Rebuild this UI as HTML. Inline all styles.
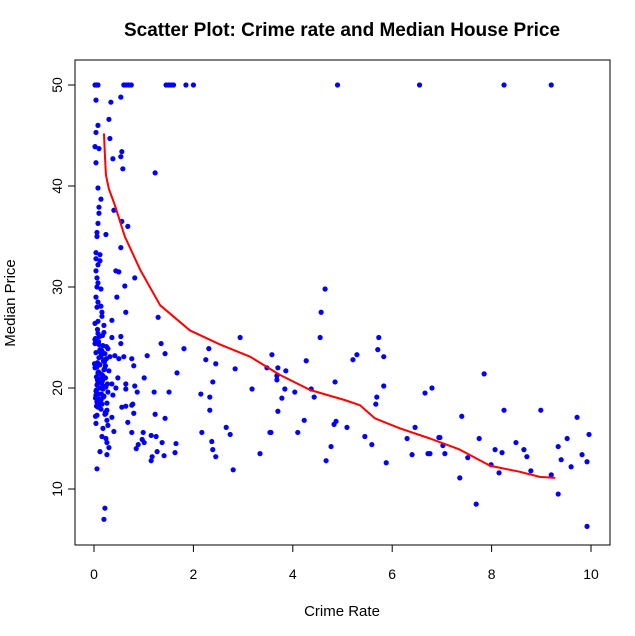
<!DOCTYPE html>
<html><head><meta charset="utf-8"><style>
body{margin:0;background:#fff;}
svg text{font-family:"Liberation Sans",Arial,sans-serif;}
</style></head><body>
<svg id="chart" width="635" height="631" xmlns="http://www.w3.org/2000/svg">
<rect width="635" height="631" fill="#fff"/>
<text x="342" y="36" font-size="19" font-weight="bold" text-anchor="middle">Scatter Plot: Crime rate and Median House Price</text>
<rect x="75" y="60" width="535" height="485" fill="none" stroke="#000" stroke-width="1"/>
<g id="xaxis"></g>
<g id="yaxis"></g>
<text x="342" y="616" font-size="15" text-anchor="middle">Crime Rate</text>
<text x="15" y="303" font-size="15" text-anchor="middle" transform="rotate(-90 15 303)">Median Price</text>
<g id="points"></g>
<g id="fit"></g>
</svg>
<script>
const xTicks=[0,2,4,6,8,10];
const yTicks=[10,20,30,40,50];
const crime=[0.02,0.05,0.08,0.6,0.65,0.7,0.75,1.45,1.5,1.55,1.6,1.85,2.0,4.9,6.55,8.25,9.2,
0.04,0.34,0.54,0.3,0.08,0.04,0.32,0.02,0.1,0.56,0.54,0.38,0.04,0.58,1.23,0.08,0.14,0.1,0.4,0.1,0.08,0.56,0.68,0.06,0.24,
0.06,0.54,0.04,0.12,0.04,0.12,0.08,0.04,0.44,0.5,0.82,0.06,0.08,0.62,0.06,0.14,0.46,0.04,0.08,0.14,
0.64,1.29,2.94,3.34,3.54,3.58,3.48,3.18,2.84,2.8,2.74,2.66,2.45,2.39,2.37,2.17,2.33,2.33,2.15,2.39,2.45,2.25,2.31,1.67,1.81,1.43,1.35,1.07,1.01,1.21,1.51,1.23,1.43,1.15,1.25,1.37,1.27,1.41,1.17,1.15,1.65,1.63,0.97,0.99,0.76,0.89,0.85,1.01,0.68,0.8,0.78,0.56,0.64,0.76,0.64,0.64,0.82,0.87,0.8,0.76,0.6,0.5,0.42,0.32,0.54,0.54,0.36,0.36,0.48,0.44,0.36,0.38,0.36,0.4,0.26,0.3,0.26,0.12,0.16,0.24,0.18,0.28,0.26,0.04,0.2,0.08,0.16,0.16,0.06,0.06,0.22,0.2,
4.65,4.57,4.55,3.7,3.86,3.68,3.68,4.27,3.84,3.78,4.04,4.37,4.43,4.85,3.7,4.23,4.1,3.56,4.83,4.87,5.09,4.77,4.67,5.21,5.29,5.73,5.71,5.83,5.83,5.69,5.67,5.45,5.59,5.88,6.3,6.46,6.4,6.72,6.66,6.8,6.94,
7.85,7.4,8.25,8.99,9.72,9.96,6.96,7.02,7.06,6.76,7.75,7.52,7.36,7.69,8.07,8.21,7.99,8.15,8.49,8.65,8.71,8.79,9.2,9.34,9.4,9.52,9.6,9.82,9.92,9.34,9.92,
0.02,0.04,0.06,0.08,0.1,0.12,0.14,0.16,0.18,0.2,0.22,0.24,0.26,0.28,0.3,0.03,0.05,0.07,0.09,0.11,0.13,0.15,0.17,0.19,0.21,0.23,0.25,0.27,0.01,0.04,0.07,0.1,0.13,0.16,0.19,0.22,0.25,0.28,0.02,0.05,0.08,0.11,0.14,0.17,0.2,0.23,0.26,0.03,0.06,0.09,0.12,0.15,0.18,0.21,0.24,0.02,0.06,0.1,0.14,0.18,0.22,0.04,0.08,0.12,0.16,0.2,0.03,0.07,0.11,0.15,0.19,0.23,0.05,0.09,0.13,0.02,0.06,0.1,0.03,0.08];
const price=[50,50,50,50,50,50,50,50,50,50,50,50,50,50,50,50,50,
48.5,48.3,48.8,46.6,46,45.3,44.7,43.9,43.7,43.4,42.9,42.7,42.3,41.7,41.3,39.8,38.7,37.9,37.6,37.3,36.3,36.5,36,35.4,35.2,
35,33.9,33.4,33.2,32.8,32.6,32.2,31.6,31.6,31.5,30.9,30.9,30.4,30.1,30,29.8,29,29,28.5,28.1,
27.5,27,25,13.5,15.6,23.3,22,19.9,21.9,11.9,15.4,16.1,13.2,13.9,14.7,15.6,17.8,19.1,19.4,20.6,22.4,22.8,23.9,21.5,23.9,23.4,24.4,23.2,21,19.6,19.6,17.4,17,15.3,15.2,14.6,13.7,13.3,13.2,12.8,14.5,13.6,14.9,15.6,15.6,14.4,14,14.6,16.6,17.5,18.4,18.1,18.2,18.3,20.4,19.9,20.2,19.6,22.2,22.9,23.1,22.9,23.2,23.1,24.4,25.1,25,26.7,21,20,20.4,19.3,17.1,15.7,14.6,14.1,13.4,13.7,15.2,15,16,16.3,16.8,16.5,26.2,26.6,27.1,27.5,28,12,8.1,7,
29.8,27.5,25,22,21.7,21.2,20.8,22.7,19.9,19,19.6,19.9,19.1,20.6,17.7,16.8,15.6,15.6,16.4,16.7,16.1,14.2,12.8,22.8,23.3,25,23.8,23.1,20.2,19.1,18.4,15.2,14.4,12.6,15,16.1,13.4,13.5,19.5,20,15.1,
21.4,17.2,17.8,17.8,17.1,15.4,15.1,14.3,13.5,13.5,15,13.1,11.1,8.5,13.9,13.6,12.4,11.6,14.6,13.9,13.2,11.8,11.4,14.2,12.9,15,12.2,13.4,12.7,9.5,6.3,
24.8,23.5,22.1,20.6,19.4,18.7,17.9,21.3,24.2,25.5,22.8,20.1,18.5,23.9,21.7,17.2,19.8,22.5,24.6,18.3,20.9,23.3,25.2,19.1,21.9,17.6,24.1,20.4,22.4,19.3,25.8,18.9,21.4,23.7,20.2,17.4,22.9,19.6,24.4,21.1,18.1,25.1,23.1,20.7,19.2,22.2,17.8,24.9,18.6,21.6,23.8,20.5,19.9,22.6,17.5,26.4,20.3,24.3,18.8,21.2,23.4,19.7,25.4,22.3,18.4,21.8,24.7,20.8,23.6,19.4,22.7,21,18.2,24.5,20,22,17.3,23,19,21.5];
const fitX=[0.2,0.22,0.24,0.3,0.42,0.62,0.93,1.33,1.93,2.54,3.14,3.74,4.35,5.05,5.35,5.65,6.16,6.76,7.36,7.97,8.57,8.97,9.28];
const fitY=[45.2,43,41.1,39.7,38.1,35,31.7,28.2,25.7,24.3,23.1,21.3,19.8,18.8,18.3,17,16,15,13.9,12.3,11.7,11.2,11.1];
const NS='http://www.w3.org/2000/svg';
const X=v=>94+v*49.7;
const Y=v=>489-(v-10)*10.1;
const xa=document.getElementById('xaxis'),ya=document.getElementById('yaxis');
function mk(tag,parent,attrs){const e=document.createElementNS(NS,tag);for(const k in attrs)e.setAttribute(k,attrs[k]);parent.appendChild(e);return e;}
const xl=mk('line',xa,{x1:X(0),x2:X(10),y1:545,y2:545,stroke:'#000'});


xTicks.forEach(t=>{
 const l=mk('line',xa,{x1:X(t),x2:X(t),y1:545,y2:552,stroke:'#000'});
 
 
 const tx=mk('text',xa,{x:X(t),y:579,'font-size':14,'text-anchor':'middle'});tx.textContent=t;
 
 
});
const yl=mk('line',ya,{x1:75,x2:75,y1:Y(10),y2:Y(50),stroke:'#000'});


yTicks.forEach(t=>{
 const l=mk('line',ya,{x1:68,x2:75,y1:Y(t),y2:Y(t),stroke:'#000'});
 
 
 const tx=mk('text',ya,{x:62,y:Y(t),'font-size':14,'text-anchor':'middle',transform:`rotate(-90 62 ${Y(t)})`});tx.textContent=t;
 
 
});
const pg=document.getElementById('points');
const n=Math.min(crime.length,price.length);
for(let i=0;i<n;i++){
 const p=mk('circle',pg,{cx:X(crime[i]),cy:Y(price[i]),r:2.6,fill:'#0000ff'});
 
 
}
const fg=document.getElementById('fit');
const path=mk('polyline',fg,{points:fitX.map((v,i)=>X(v)+','+Y(fitY[i])).join(' '),fill:'none',stroke:'#ff0000','stroke-width':2,'stroke-linejoin':'round'});


</script>
</body></html>
